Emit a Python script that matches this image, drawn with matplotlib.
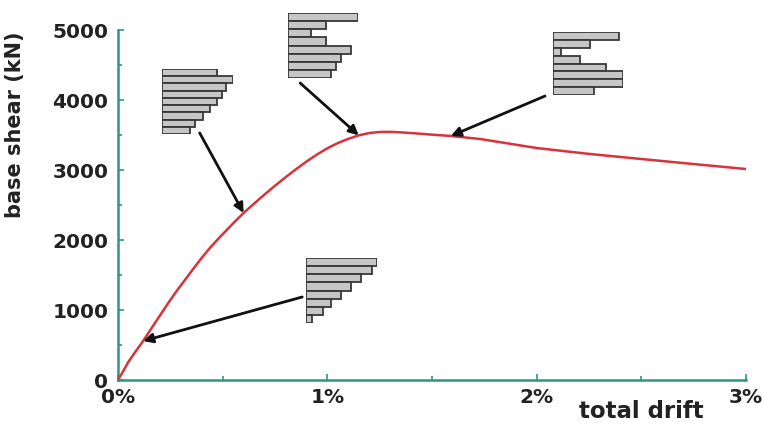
import numpy as np
import matplotlib
matplotlib.use('Agg')
import matplotlib.pyplot as plt
from matplotlib.ticker import MultipleLocator

plt.rcParams.update({
    'font.family': 'DejaVu Sans', 'font.weight': 'bold',
    'axes.labelweight': 'bold',
})

# pushover curve: total drift (%) vs base shear (kN)
drift = [0, 0.02, 0.05, 0.08, 0.12, 0.16, 0.20, 0.24, 0.28, 0.32, 0.36, 0.40,
         0.44, 0.48, 0.52, 0.56, 0.60, 0.65, 0.70, 0.75, 0.80, 0.85, 0.90,
         0.95, 1.00, 1.05, 1.10, 1.15, 1.20, 1.25, 1.30, 1.35, 1.40, 1.50,
         1.59, 1.73, 2.0, 2.25, 2.5, 2.75, 3.0]
shear = [0, 100, 260, 390, 557, 740, 920, 1100, 1271, 1430, 1590, 1745,
         1890, 2020, 2145, 2268, 2386, 2520, 2650, 2775, 2895, 3010, 3120,
         3220, 3310, 3385, 3445, 3495, 3528, 3543, 3545, 3538, 3528, 3505,
         3486, 3443, 3314, 3230, 3157, 3085, 3014]

# story profiles shown next to the curve (top story first)
profile_elastic = [70, 65, 55, 45, 35, 25, 17, 6]
profile_pre = [55, 71, 64, 60, 55, 48, 41, 33, 28]
profile_peak = [70, 38, 23, 38, 63, 53, 48, 43]
profile_post = [65, 37, 8, 27, 53, 69, 69, 41]

x_ticks = [0, 1, 2, 3]
x_labels = ['0%', '1%', '2%', '3%']
y_ticks = [0, 1000, 2000, 3000, 4000, 5000]

TEAL = '#2f9486'
TXT = '#222222'

fig = plt.figure(figsize=(7.64, 4.25), dpi=100)
ax = fig.add_axes([118 / 764, 45 / 425, 628 / 764, 350 / 425])

ax.plot(drift, shear, color='#d8323c', lw=1.8, zorder=3)

ax.set_xlim(0, 3)
ax.set_ylim(0, 5000)
ax.set_xticks(x_ticks)
ax.set_xticklabels(x_labels)
ax.set_yticks(y_ticks)
ax.xaxis.set_minor_locator(MultipleLocator(0.5))
ax.yaxis.set_minor_locator(MultipleLocator(500))
ax.tick_params(which='both', direction='in', color=TEAL, width=1.2)
ax.tick_params(which='major', length=4, labelsize=14.5, labelcolor=TXT)
ax.tick_params(which='minor', length=3)
ax.tick_params(axis='x', pad=6)
ax.tick_params(axis='y', pad=7)

for s in ['top', 'right']:
    ax.spines[s].set_visible(False)
for s in ['left', 'bottom']:
    ax.spines[s].set_color(TEAL)
    ax.spines[s].set_linewidth(1.8)

ax.set_ylabel('base shear (kN)', fontsize=15, color=TXT)
ax.yaxis.set_label_coords(-0.148, 0.73)
ax.set_xlabel('total drift', fontsize=16.5, color=TXT)
ax.xaxis.set_label_coords(0.834, -0.058)


def story_profile(values, left, top, bottom, px_per_unit=1 / 209):
    # small horizontal bar glyph anchored in data coords
    width = max(values) * px_per_unit
    ins = ax.inset_axes([left, bottom, width, top - bottom],
                        transform=ax.transData)
    ins.barh(np.arange(len(values)), values, height=1.0, left=0,
             color='#c6c6c6', edgecolor='#383838', linewidth=1.3)
    ins.set_xlim(0, max(values))
    ins.set_ylim(len(values) - 0.5, -0.5)
    ins.axis('off')
    return ins


story_profile(profile_pre, 0.21, 4443, 3514)
story_profile(profile_peak, 0.81, 5243, 4314)
story_profile(profile_post, 2.08, 4971, 4071)
story_profile(profile_elastic, 0.90, 1743, 814)

arrow = dict(arrowstyle='-|>', color='#111111', lw=2, mutation_scale=14,
             shrinkA=0, shrinkB=0)
# arrows from each profile to its point on the curve
ax.annotate('', xy=(drift[16], shear[16]), xytext=(0.39, 3530), arrowprops=arrow)
ax.annotate('', xy=(drift[27], shear[27]), xytext=(0.87, 4243), arrowprops=arrow)
ax.annotate('', xy=(drift[34], shear[34]), xytext=(2.04, 4057), arrowprops=arrow)
ax.annotate('', xy=(drift[4], shear[4]), xytext=(0.88, 1186), arrowprops=arrow)

fig.savefig('out.png', dpi=100)
